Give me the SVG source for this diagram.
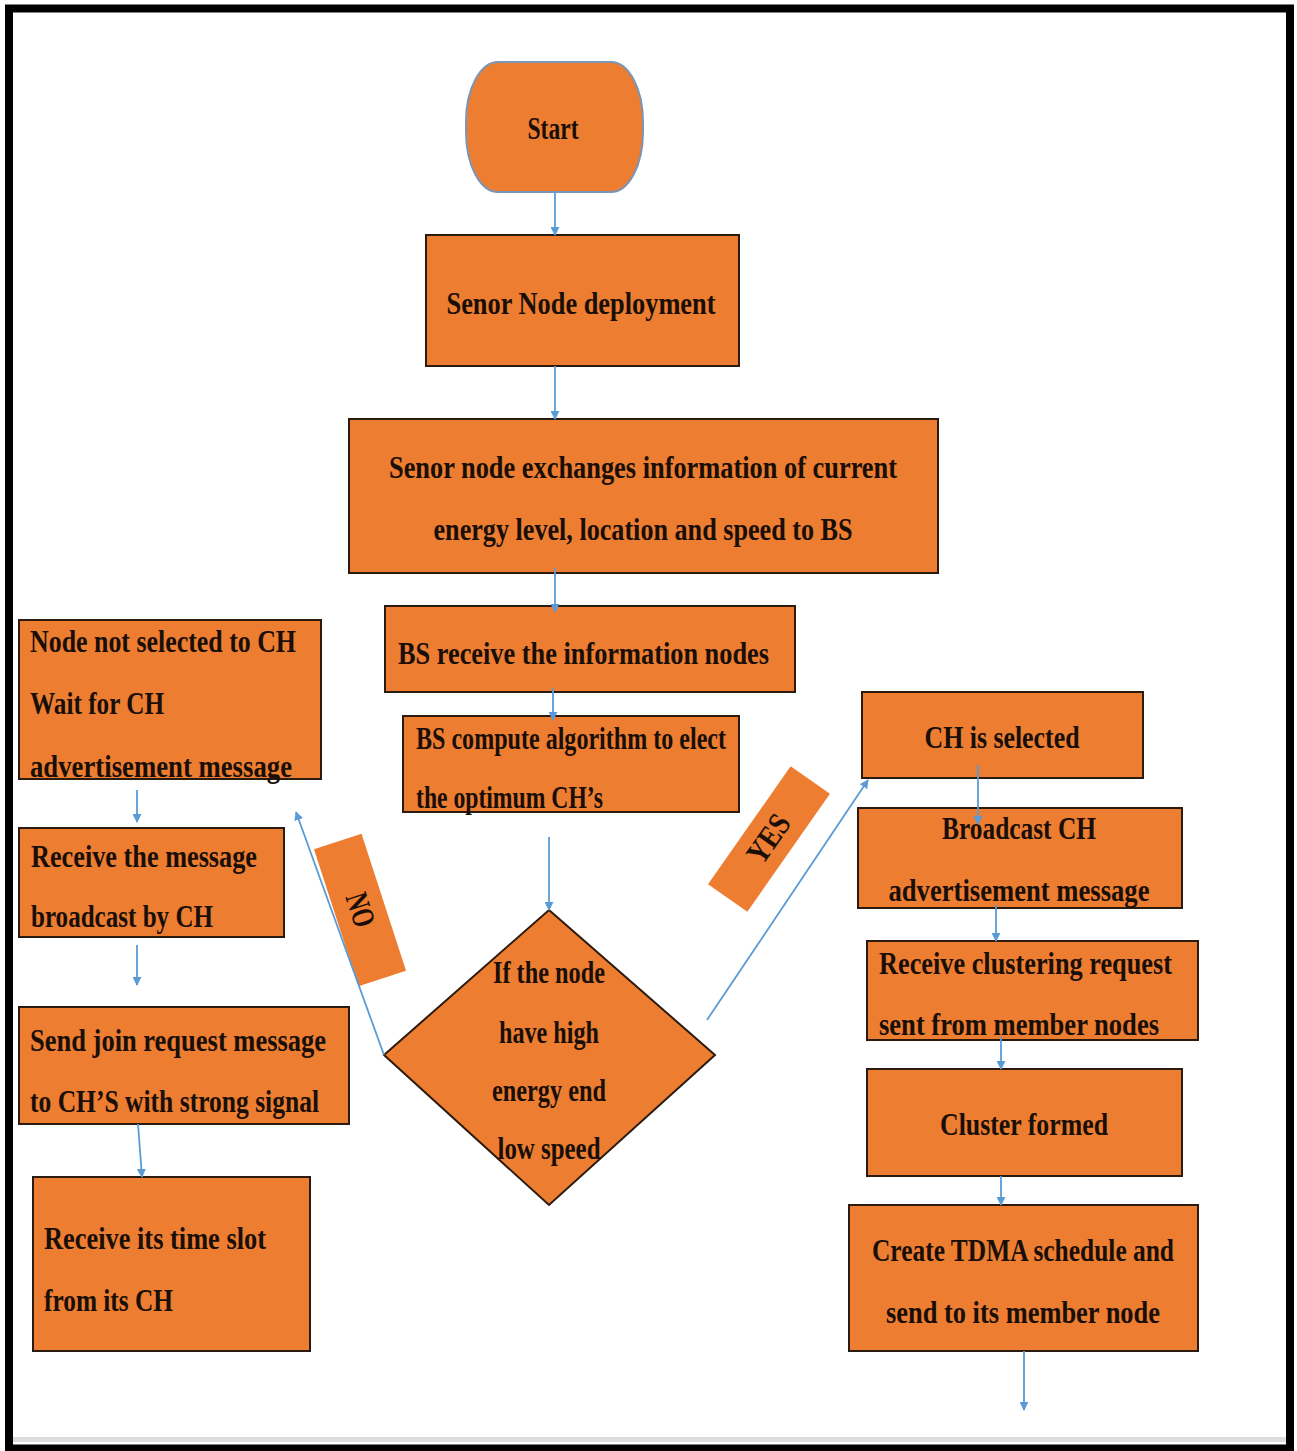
<svg xmlns="http://www.w3.org/2000/svg" width="1297" height="1451" viewBox="0 0 1297 1451">
<defs>
<style>
.box{fill:#ED7D31;stroke:#2b1a0e;stroke-width:2}
.t{font-family:"Liberation Serif","Times New Roman",serif;font-weight:bold;font-size:32px;fill:#1a0f08}
.c{text-anchor:middle}
.lbl{fill:#ED7D31;stroke:none}
.edge{stroke:#5B9BD5;stroke-width:1.8;fill:none;marker-end:url(#ah)}
</style>
<marker id="ah" viewBox="0 0 10 10" refX="9" refY="5" markerWidth="9" markerHeight="9" markerUnits="userSpaceOnUse" orient="auto">
<path d="M0,0 L10,5 L0,10 z" fill="#5B9BD5"/>
</marker>
</defs>
<rect x="0" y="0" width="1297" height="1451" fill="#ffffff"/>
<rect x="13" y="1437" width="1274" height="5" fill="#dcdcdc"/>
<rect x="9" y="8.5" width="1281" height="1440" fill="none" stroke="#000" stroke-width="8"/>

<g id="start">
<rect x="466" y="62" width="177" height="130" rx="32" ry="60" fill="#ED7D31" stroke="#7a95b5" stroke-width="2"/>
<text class="t c" x="553" y="139" textLength="51" lengthAdjust="spacingAndGlyphs">Start</text>
</g>

<g id="deploy">
<rect class="box" x="426" y="235" width="313" height="131"/>
<text class="t c" x="581" y="314" textLength="269" lengthAdjust="spacingAndGlyphs">Senor Node deployment</text>
</g>

<g id="exchange">
<rect class="box" x="349" y="419" width="589" height="154"/>
<text class="t c" x="643" y="478" textLength="508" lengthAdjust="spacingAndGlyphs">Senor node exchanges information of current</text>
<text class="t c" x="643" y="540" textLength="419" lengthAdjust="spacingAndGlyphs">energy level, location and speed to BS</text>
</g>

<g id="bsreceive">
<rect class="box" x="385" y="606" width="410" height="86"/>
<text class="t" x="398" y="664" textLength="371" lengthAdjust="spacingAndGlyphs">BS receive the information nodes</text>
</g>

<g id="bscompute">
<rect class="box" x="403" y="716" width="336" height="96"/>
<text class="t" x="416" y="749" textLength="310" lengthAdjust="spacingAndGlyphs">BS compute algorithm to elect</text>
<text class="t" x="416" y="808" textLength="187" lengthAdjust="spacingAndGlyphs">the optimum CH’s</text>
</g>

<g id="decision">
<polygon class="box" points="549,910 715,1055 549,1205 384,1055"/>
<text class="t c" x="549" y="983" textLength="112" lengthAdjust="spacingAndGlyphs">If the node</text>
<text class="t c" x="549" y="1043" textLength="100" lengthAdjust="spacingAndGlyphs">have high</text>
<text class="t c" x="549" y="1101" textLength="114" lengthAdjust="spacingAndGlyphs">energy end</text>
<text class="t c" x="549" y="1159" textLength="103" lengthAdjust="spacingAndGlyphs">low speed</text>
</g>

<g id="label-no" transform="translate(360,910) rotate(72)">
<rect class="lbl" x="-72" y="-25" width="144" height="50"/>
<text class="t c" x="0" y="10" font-size="30" textLength="34" lengthAdjust="spacingAndGlyphs">NO</text>
</g>

<g id="label-yes" transform="translate(769,839) rotate(-55)">
<rect class="lbl" x="-72" y="-24" width="144" height="48"/>
<text class="t c" x="0" y="10" font-size="30" textLength="52" lengthAdjust="spacingAndGlyphs">YES</text>
</g>

<g id="notselected">
<rect class="box" x="19" y="620" width="302" height="159"/>
<text class="t" x="30" y="652" textLength="266" lengthAdjust="spacingAndGlyphs">Node not selected to CH</text>
<text class="t" x="30" y="714" textLength="134" lengthAdjust="spacingAndGlyphs">Wait for CH</text>
<text class="t" x="30" y="777" textLength="262" lengthAdjust="spacingAndGlyphs">advertisement message</text>
</g>

<g id="receivemsg">
<rect class="box" x="19" y="828" width="265" height="109"/>
<text class="t" x="31" y="867" textLength="226" lengthAdjust="spacingAndGlyphs">Receive the message</text>
<text class="t" x="31" y="927" textLength="182" lengthAdjust="spacingAndGlyphs">broadcast by CH</text>
</g>

<g id="sendjoin">
<rect class="box" x="19" y="1007" width="330" height="117"/>
<text class="t" x="30" y="1051" textLength="296" lengthAdjust="spacingAndGlyphs">Send join request message</text>
<text class="t" x="30" y="1112" textLength="289" lengthAdjust="spacingAndGlyphs">to CH’S with strong signal</text>
</g>

<g id="timeslot">
<rect class="box" x="33" y="1177" width="277" height="174"/>
<text class="t" x="44" y="1249" textLength="222" lengthAdjust="spacingAndGlyphs">Receive its time slot</text>
<text class="t" x="44" y="1311" textLength="129" lengthAdjust="spacingAndGlyphs">from its CH</text>
</g>

<g id="chselected">
<rect class="box" x="862" y="692" width="281" height="86"/>
<text class="t c" x="1002" y="748" textLength="155" lengthAdjust="spacingAndGlyphs">CH is selected</text>
</g>

<g id="broadcast">
<rect class="box" x="858" y="808" width="324" height="100"/>
<text class="t c" x="1019" y="839" textLength="154" lengthAdjust="spacingAndGlyphs">Broadcast CH</text>
<text class="t c" x="1019" y="901" textLength="261" lengthAdjust="spacingAndGlyphs">advertisement message</text>
</g>

<g id="clusterreq">
<rect class="box" x="867" y="941" width="331" height="99"/>
<text class="t" x="879" y="974" textLength="293" lengthAdjust="spacingAndGlyphs">Receive clustering request</text>
<text class="t" x="879" y="1035" textLength="280" lengthAdjust="spacingAndGlyphs">sent from member nodes</text>
</g>

<g id="clusterformed">
<rect class="box" x="867" y="1069" width="315" height="107"/>
<text class="t c" x="1024" y="1135" textLength="168" lengthAdjust="spacingAndGlyphs">Cluster formed</text>
</g>

<g id="tdma">
<rect class="box" x="849" y="1205" width="349" height="146"/>
<text class="t c" x="1023" y="1261" textLength="302" lengthAdjust="spacingAndGlyphs">Create TDMA schedule and</text>
<text class="t c" x="1023" y="1323" textLength="274" lengthAdjust="spacingAndGlyphs">send to its member node</text>
</g>

<g id="connectors">
<line class="edge" x1="555" y1="192" x2="555" y2="235"/>
<line class="edge" x1="555" y1="366" x2="555" y2="419"/>
<line class="edge" x1="555" y1="568" x2="555" y2="612"/>
<line class="edge" x1="553" y1="688" x2="553" y2="720"/>
<line class="edge" x1="549" y1="837" x2="549" y2="910"/>
<line class="edge" x1="384" y1="1055" x2="296" y2="812"/>
<line class="edge" x1="707" y1="1020" x2="868" y2="780"/>
<line class="edge" x1="137" y1="790" x2="137" y2="822"/>
<line class="edge" x1="137" y1="945" x2="137" y2="985"/>
<line class="edge" x1="138" y1="1124" x2="142" y2="1177"/>
<line class="edge" x1="978" y1="765" x2="978" y2="824"/>
<line class="edge" x1="996" y1="905" x2="996" y2="941"/>
<line class="edge" x1="1001" y1="1037" x2="1001" y2="1069"/>
<line class="edge" x1="1001" y1="1176" x2="1001" y2="1205"/>
<line class="edge" x1="1024" y1="1351" x2="1024" y2="1410"/>
</g>
</svg>
